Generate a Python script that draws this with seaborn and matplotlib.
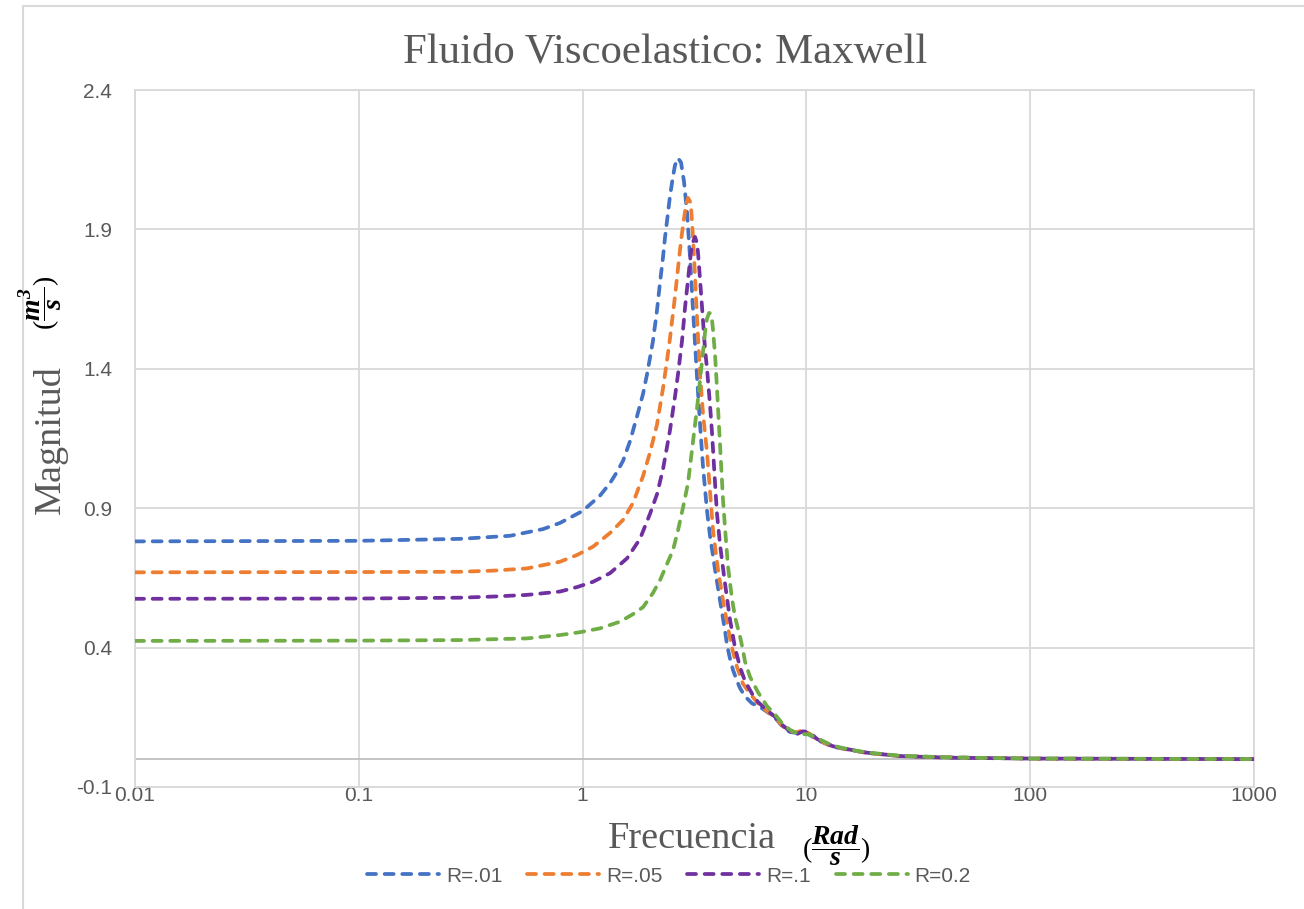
import matplotlib
matplotlib.use("Agg")
import matplotlib.pyplot as plt
import seaborn as sns
from matplotlib.lines import Line2D
from matplotlib.ticker import FixedLocator, NullLocator

# Frequency response of a Maxwell viscoelastic fluid for four values of R
freq_r01 = [0.01, 0.1, 0.283, 0.474, 0.665, 0.792, 1.0, 1.196, 1.326, 1.424, 1.516, 1.628,
            1.751, 1.862, 1.94, 2.001, 2.063, 2.15, 2.218, 2.287, 2.334, 2.383, 2.458, 2.535,
            2.587, 2.668, 2.753, 2.84, 2.929, 3.02, 3.115, 3.18, 3.246, 3.348, 3.451, 3.597,
            3.71, 3.906, 4.111, 4.328, 4.418, 4.557, 4.699, 4.897, 5.05, 5.316, 5.714, 6.203,
            6.668, 7.24, 7.863, 8.45, 9.08, 9.656, 10.38, 11.16, 13.15, 15.66, 18.66, 26.2,
            43.8, 100, 1000]
mag_r01 = [0.781, 0.783, 0.790, 0.801, 0.825, 0.847, 0.890, 0.945, 0.990, 1.030, 1.070, 1.140,
           1.230, 1.310, 1.380, 1.440, 1.500, 1.610, 1.710, 1.800, 1.870, 1.930, 2.020, 2.090,
           2.130, 2.156, 2.140, 2.070, 1.960, 1.800, 1.610, 1.490, 1.370, 1.200, 1.050, 0.890,
           0.800, 0.680, 0.570, 0.460, 0.410, 0.360, 0.320, 0.280, 0.255, 0.225, 0.200, 0.187,
           0.170, 0.148, 0.115, 0.097, 0.094, 0.100, 0.086, 0.069, 0.044, 0.033, 0.022, 0.011,
           0.006, 0.002, 0.0]

freq_r05 = [0.01, 0.1, 0.283, 0.398, 0.564, 0.792, 0.944, 1.113, 1.326, 1.516, 1.68, 1.862,
            2.001, 2.15, 2.287, 2.383, 2.458, 2.535, 2.587, 2.668, 2.753, 2.84, 2.9, 2.958,
            3.02, 3.051, 3.115, 3.18, 3.246, 3.348, 3.451, 3.597, 3.71, 3.826, 4.027, 4.24,
            4.464, 4.651, 4.897, 5.209, 5.598, 6.076, 6.668, 7.24, 7.863, 8.45, 9.08, 9.656,
            10.38, 11.16, 13.15, 15.66, 18.66, 26.2, 43.8, 100, 1000]
mag_r05 = [0.670, 0.671, 0.672, 0.676, 0.684, 0.708, 0.732, 0.762, 0.811, 0.858, 0.919, 1.015,
           1.100, 1.200, 1.330, 1.430, 1.510, 1.600, 1.660, 1.760, 1.860, 1.940, 1.990, 2.013,
           2.000, 1.980, 1.870, 1.730, 1.580, 1.380, 1.240, 1.100, 0.960, 0.820, 0.680, 0.570,
           0.470, 0.400, 0.330, 0.270, 0.235, 0.200, 0.172, 0.150, 0.117, 0.100, 0.096, 0.105,
           0.090, 0.070, 0.045, 0.033, 0.022, 0.011, 0.006, 0.002, 0.0]

freq_r1 = [0.01, 0.1, 0.283, 0.398, 0.564, 0.792, 0.944, 1.113, 1.326, 1.579, 1.805, 2.001,
           2.15, 2.287, 2.458, 2.587, 2.668, 2.781, 2.869, 2.958, 3.051, 3.115, 3.18, 3.246,
           3.28, 3.348, 3.418, 3.524, 3.597, 3.71, 3.787, 3.906, 3.986, 4.111, 4.328, 4.557,
           4.797, 5.05, 5.316, 5.714, 6.076, 6.668, 7.24, 7.863, 8.45, 9.08, 9.656, 10.38,
           11.16, 13.15, 15.66, 18.66, 26.2, 43.8, 100, 1000]
mag_r1 = [0.575, 0.576, 0.579, 0.583, 0.589, 0.601, 0.617, 0.636, 0.667, 0.720, 0.790, 0.880,
          0.950, 1.040, 1.180, 1.300, 1.380, 1.500, 1.620, 1.720, 1.820, 1.855, 1.873, 1.850,
          1.815, 1.720, 1.620, 1.470, 1.400, 1.270, 1.170, 0.990, 0.880, 0.770, 0.630, 0.500,
          0.400, 0.330, 0.280, 0.235, 0.205, 0.175, 0.152, 0.120, 0.100, 0.090, 0.100, 0.095,
          0.072, 0.046, 0.034, 0.023, 0.011, 0.005, 0.002, 0.0]

freq_r2 = [0.01, 0.1, 0.283, 0.398, 0.564, 0.792, 0.97, 1.196, 1.469, 1.68, 1.862, 2.063,
           2.218, 2.383, 2.535, 2.668, 2.84, 2.958, 3.083, 3.18, 3.246, 3.348, 3.451, 3.524,
           3.597, 3.672, 3.71, 3.787, 3.826, 3.906, 3.986, 4.027, 4.111, 4.24, 4.328, 4.464,
           4.651, 4.797, 5.05, 5.209, 5.316, 5.598, 6.076, 6.668, 7.24, 7.863, 8.45, 9.08,
           9.656, 10.38, 11.16, 13.15, 15.66, 18.66, 26.2, 43.8, 100, 1000]
mag_r2 = [0.424, 0.425, 0.427, 0.430, 0.433, 0.445, 0.455, 0.469, 0.493, 0.520, 0.545, 0.596,
          0.642, 0.700, 0.750, 0.820, 0.920, 0.990, 1.110, 1.200, 1.260, 1.360, 1.460, 1.530,
          1.580, 1.600, 1.600, 1.575, 1.540, 1.450, 1.330, 1.260, 1.130, 0.930, 0.830, 0.690,
          0.575, 0.510, 0.440, 0.390, 0.350, 0.295, 0.240, 0.190, 0.160, 0.125, 0.105, 0.093,
          0.090, 0.088, 0.075, 0.048, 0.034, 0.024, 0.012, 0.006, 0.002, 0.0]

series_names = ["R=.01", "R=.05", "R=.1", "R=0.2"]
series_colors = ["#4472C4", "#ED7D31", "#7030A0", "#70AD47"]

x_ticks = [0.01, 0.1, 1, 10, 100, 1000]
x_tick_labels = ["0.01", "0.1", "1", "10", "100", "1000"]
y_ticks = [-0.1, 0.4, 0.9, 1.4, 1.9, 2.4]
y_tick_labels = ["-0.1", "0.4", "0.9", "1.4", "1.9", "2.4"]

title = "Fluido Viscoelastico: Maxwell"
x_label = "Frecuencia"
x_unit = r"$(\dfrac{\mathbf{Rad}}{\mathbf{s}})$"
y_label = "Magnitud"
y_unit = r"$(\dfrac{\mathbf{m^3}}{\mathbf{s}})$"

sns.set_theme(style="white")
plt.rcParams["font.family"] = ["Liberation Sans", "DejaVu Sans"]
plt.rcParams["mathtext.fontset"] = "custom"
plt.rcParams["mathtext.rm"] = "Liberation Serif"
plt.rcParams["mathtext.it"] = "Liberation Serif:italic"
plt.rcParams["mathtext.bf"] = "Liberation Serif:italic:bold"

W, H = 1304, 909
fig = plt.figure(figsize=(W / 100, H / 100), dpi=100)
fig.patch.set_facecolor("white")
ax = fig.add_axes([135 / W, 1 - 787 / H, (1254 - 135) / W, (787 - 90) / H])

grid_col = "#D9D9D9"
text_col = "#595959"

all_freq = [freq_r01, freq_r05, freq_r1, freq_r2]
all_mag = [mag_r01, mag_r05, mag_r1, mag_r2]
for name, col, f, m in zip(series_names, series_colors, all_freq, all_mag):
    sns.lineplot(x=f, y=m, ax=ax, color=col, linewidth=2.7,
                 linestyle=(0, (2.4, 2.3)), dash_capstyle="round",
                 solid_joinstyle="round", label=name, sort=False,
                 estimator=None, zorder=3)

handles, labels = ax.get_legend_handles_labels()
if ax.get_legend() is not None:
    ax.get_legend().remove()

ax.set_xscale("log")
ax.set_xlim(0.01, 1000)
ax.set_ylim(-0.1, 2.4)
ax.xaxis.set_major_locator(FixedLocator(x_ticks))
ax.xaxis.set_minor_locator(NullLocator())
ax.set_xticklabels(x_tick_labels)
ax.yaxis.set_major_locator(FixedLocator(y_ticks))
ax.set_yticklabels(y_tick_labels)
ax.set_xlabel("")
ax.set_ylabel("")

ax.grid(True, color=grid_col, linewidth=1.3)
ax.set_axisbelow(True)
for sp in ax.spines.values():
    sp.set_visible(True)
    sp.set_color(grid_col)
    sp.set_linewidth(1.3)
ax.axhline(0, color="#BFBFBF", linewidth=1.3, zorder=2)

ax.tick_params(axis="both", length=0, labelsize=15, labelcolor=text_col)
ax.tick_params(axis="x", pad=-0.5)
ax.tick_params(axis="y", pad=16.5)

serif = ["Liberation Serif", "DejaVu Serif"]
fig.text(665 / W, 1 - 52 / H, title, ha="center", va="center",
         family=serif, fontsize=30.8, color=text_col)
fig.text(692 / W, 1 - 848 / H, x_label, ha="center", va="baseline",
         family=serif, fontsize=27.5, color=text_col)
fig.text(836 / W, 1 - 846 / H, x_unit, ha="center", va="center",
         fontsize=20, color="black")
fig.text(50 / W, 1 - 440 / H, y_label, ha="center", va="center", rotation=90,
         family=serif, fontsize=27.5, color=text_col)
fig.text(41 / W, 1 - 303 / H, y_unit, ha="center", va="center", rotation=90,
         fontsize=20, color="black")

fig.legend(handles, labels, loc="center", bbox_to_anchor=(669 / W, 1 - 876 / H),
           ncol=4, frameon=False, fontsize=15, handlelength=3.45,
           handletextpad=0.33, columnspacing=1.2, labelcolor=text_col)

# outer chart frame
fig.add_artist(Line2D([22.5 / W, 22.5 / W], [0, 1 - 6 / H], transform=fig.transFigure,
                      color=grid_col, linewidth=1.5))
fig.add_artist(Line2D([22.5 / W, 1], [1 - 6 / H, 1 - 6 / H], transform=fig.transFigure,
                      color=grid_col, linewidth=1.5))

fig.savefig("out.png", dpi=100, facecolor="white")
